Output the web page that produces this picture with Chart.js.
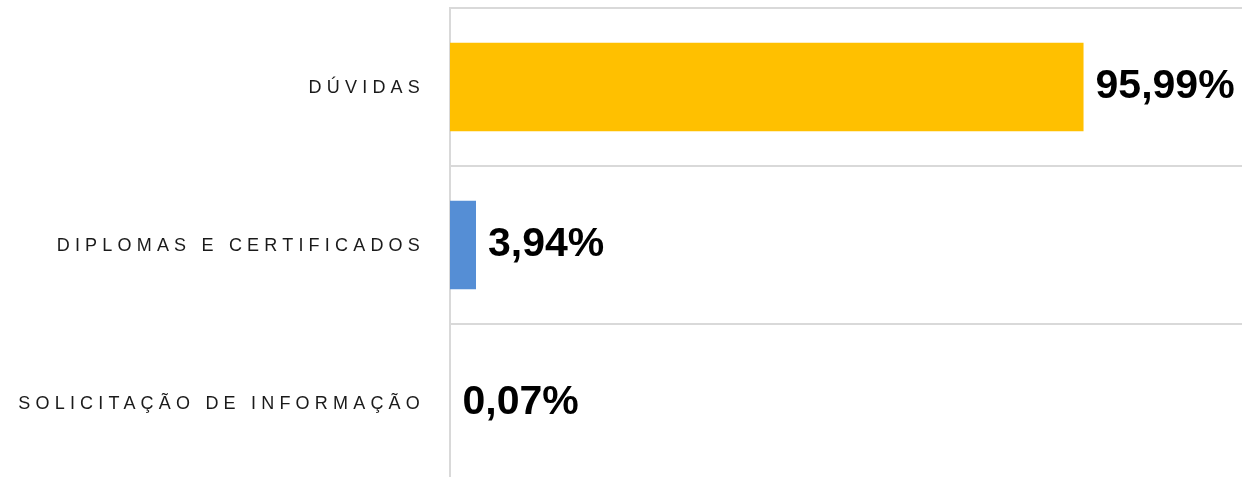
<!DOCTYPE html>
<html>
<head>
<meta charset="utf-8">
<script src="https://cdn.jsdelivr.net/npm/chart.js@4"></script>
<style>
  html, body { margin: 0; padding: 0; background: #fff; overflow: hidden; }
  #wrap { width: 1242px; height: 482px; }
</style>
</head>
<body>
<div id="wrap"><canvas id="motivosChart" width="1242" height="482"></canvas></div>
<script>
// Chart data
const categories = ["DÚVIDAS", "DIPLOMAS E CERTIFICADOS", "SOLICITAÇÃO DE INFORMAÇÃO"];
const percentages = [95.99, 3.94, 0.07];
const barColors = ["#FFC000", "#558ED5", "#D9D9D9"];

const fmt = (v) => v.toFixed(2).replace(".", ",") + "%";

// draws the category names with letter spacing (canvas ticks can't do it)
const categoryLabels = {
  id: "categoryLabels",
  afterDraw(chart) {
    const ctx = chart.ctx;
    const yScale = chart.scales.y;
    ctx.save();
    ctx.font = "18px 'Liberation Sans', Arial, sans-serif";
    ctx.fillStyle = "#1a1a1a";
    ctx.textAlign = "right";
    ctx.textBaseline = "middle";
    ctx.letterSpacing = "5.2px";
    categories.forEach((label, i) => {
      ctx.fillText(label, 425, yScale.getPixelForTick(i) + 1);
    });
    ctx.restore();
  },
};

// value labels at the end of each bar
const valueLabels = {
  id: "valueLabels",
  afterDatasetsDraw(chart) {
    const ctx = chart.ctx;
    const meta = chart.getDatasetMeta(0);
    ctx.save();
    ctx.font = "bold 41px 'Liberation Sans', Arial, sans-serif";
    ctx.fillStyle = "#000";
    ctx.textAlign = "left";
    ctx.textBaseline = "middle";
    meta.data.forEach((bar, i) => {
      ctx.fillText(fmt(percentages[i]), bar.x + 12, bar.y);
    });
    ctx.restore();
  },
};

const ctx = document.getElementById("motivosChart").getContext("2d");

new Chart(ctx, {
  type: "bar",
  data: {
    labels: categories,
    datasets: [
      {
        data: percentages,
        backgroundColor: barColors,
        barPercentage: 0.56,
        categoryPercentage: 1,
      },
    ],
  },
  options: {
    indexAxis: "y",
    responsive: false,
    animation: false,
    layout: {
      padding: { left: 450, top: 8, right: 0, bottom: 0 },
    },
    plugins: {
      legend: { display: false },
      tooltip: { enabled: false },
    },
    scales: {
      x: {
        min: 0,
        max: 120,
        display: false,
      },
      y: {
        ticks: { display: false },
        grid: {
          offset: true,
          color: "#d9d9d9",
          lineWidth: 2,
          drawTicks: false,
        },
        border: { color: "#d9d9d9", width: 2 },
      },
    },
  },
  plugins: [categoryLabels, valueLabels],
});
</script>
</body>
</html>
